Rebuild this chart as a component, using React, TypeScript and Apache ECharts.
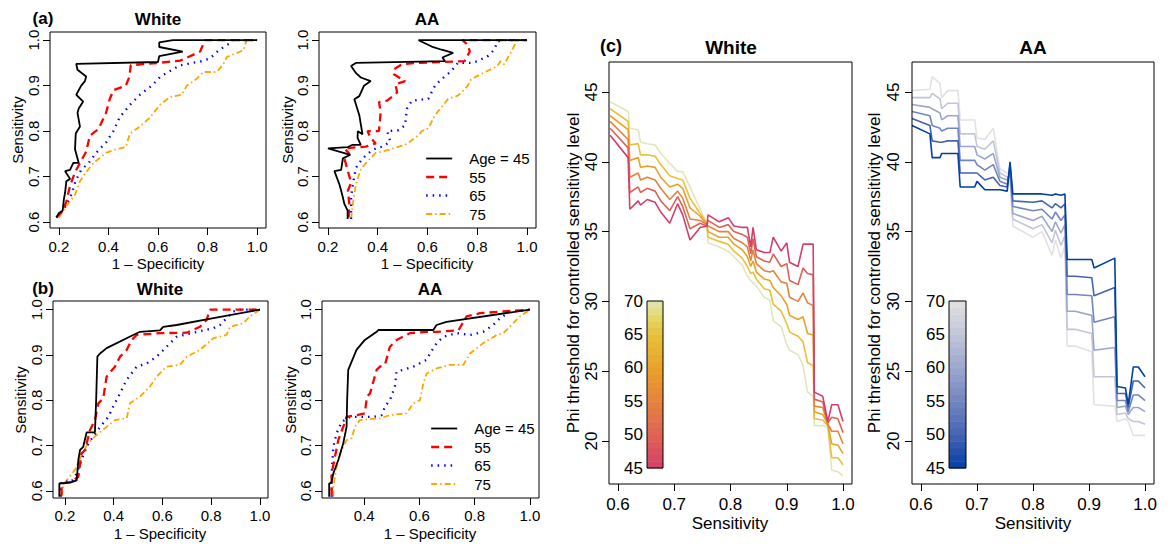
import React, { useEffect, useRef } from 'react';
import * as echarts from 'echarts';

const FONT = '"Liberation Sans", Arial, Helvetica, sans-serif';

// ---------- ROC data (1 - specificity, sensitivity) ----------
const ageLabels = ['Age = 45', '55', '65', '75'];

const rocAW45 = [[0.19,0.61],[0.2,0.62],[0.215,0.625],[0.22,0.65],[0.225,0.665],[0.23,0.69],[0.245,0.695],[0.225,0.712],[0.245,0.715],[0.258,0.73],[0.28,0.73],[0.265,0.76],[0.268,0.795],[0.285,0.81],[0.275,0.84],[0.28,0.85],[0.298,0.865],[0.27,0.88],[0.29,0.9],[0.305,0.91],[0.31,0.92],[0.275,0.935],[0.27,0.948],[0.6,0.952],[0.605,0.965],[0.7,0.975],[0.605,0.985],[0.605,0.995],[0.66,1.0],[1.0,1.0]];
const rocAW55 = [[0.19,0.61],[0.215,0.625],[0.23,0.645],[0.245,0.68],[0.265,0.71],[0.285,0.73],[0.31,0.755],[0.325,0.79],[0.36,0.805],[0.39,0.84],[0.405,0.87],[0.42,0.89],[0.47,0.9],[0.485,0.92],[0.49,0.945],[0.6,0.95],[0.69,0.955],[0.77,0.975],[0.79,1.0],[1.0,1.0]];
const rocAW65 = [[0.19,0.61],[0.22,0.628],[0.25,0.66],[0.267,0.69],[0.29,0.715],[0.32,0.73],[0.35,0.752],[0.39,0.775],[0.42,0.8],[0.445,0.83],[0.487,0.858],[0.527,0.88],[0.575,0.9],[0.61,0.92],[0.69,0.945],[0.77,0.953],[0.81,0.96],[0.85,0.98],[0.89,0.993],[0.9,1.0],[1.0,1.0]];
const rocAW75 = [[0.2,0.61],[0.23,0.635],[0.265,0.66],[0.285,0.69],[0.31,0.71],[0.34,0.73],[0.39,0.752],[0.43,0.76],[0.47,0.765],[0.487,0.795],[0.527,0.81],[0.568,0.83],[0.608,0.858],[0.648,0.875],[0.696,0.88],[0.716,0.9],[0.756,0.915],[0.783,0.93],[0.837,0.93],[0.864,0.948],[0.878,0.963],[0.945,0.978],[0.958,1.0],[1.0,1.0]];

const rocAA45 = [[0.279,0.607],[0.279,0.625],[0.266,0.64],[0.26,0.654],[0.253,0.669],[0.246,0.683],[0.226,0.712],[0.253,0.715],[0.26,0.74],[0.29,0.748],[0.2,0.762],[0.28,0.765],[0.299,0.77],[0.332,0.77],[0.319,0.785],[0.32,0.8],[0.339,0.793],[0.332,0.815],[0.326,0.835],[0.306,0.87],[0.326,0.877],[0.345,0.9],[0.372,0.91],[0.332,0.918],[0.312,0.928],[0.293,0.943],[0.312,0.95],[0.67,0.954],[0.66,0.962],[0.703,0.972],[0.657,0.979],[0.617,0.986],[0.564,1.0],[1.0,1.0]];
const rocAA55 = [[0.283,0.61],[0.286,0.64],[0.28,0.669],[0.293,0.687],[0.28,0.712],[0.266,0.74],[0.286,0.75],[0.266,0.762],[0.352,0.766],[0.392,0.773],[0.372,0.785],[0.359,0.8],[0.405,0.8],[0.412,0.842],[0.405,0.864],[0.438,0.867],[0.478,0.885],[0.471,0.903],[0.51,0.91],[0.465,0.925],[0.465,0.936],[0.498,0.947],[0.55,0.95],[0.749,0.954],[0.77,0.975],[0.762,0.99],[0.74,1.0],[1.0,1.0]];
const rocAA65 = [[0.293,0.607],[0.293,0.654],[0.3,0.683],[0.312,0.719],[0.339,0.74],[0.379,0.759],[0.418,0.766],[0.451,0.777],[0.438,0.8],[0.484,0.802],[0.51,0.813],[0.517,0.849],[0.537,0.867],[0.603,0.871],[0.63,0.9],[0.656,0.914],[0.696,0.932],[0.722,0.95],[0.775,0.95],[0.802,0.954],[0.842,0.965],[0.868,0.979],[0.881,0.997],[0.9,1.0],[1.0,1.0]];
const rocAA75 = [[0.293,0.607],[0.3,0.64],[0.312,0.683],[0.332,0.716],[0.359,0.734],[0.392,0.752],[0.445,0.759],[0.51,0.77],[0.537,0.78],[0.564,0.791],[0.577,0.8],[0.603,0.806],[0.63,0.835],[0.683,0.871],[0.722,0.878],[0.749,0.892],[0.762,0.9],[0.775,0.914],[0.828,0.929],[0.881,0.943],[0.894,0.954],[0.908,0.947],[0.934,0.972],[0.947,0.986],[0.96,1.0],[1.0,1.0]];

const rocBW45 = [[0.177,0.587],[0.177,0.616],[0.221,0.618],[0.248,0.623],[0.255,0.668],[0.262,0.69],[0.275,0.697],[0.289,0.729],[0.323,0.729],[0.328,0.8],[0.333,0.896],[0.344,0.903],[0.371,0.915],[0.48,0.944],[0.508,0.951],[0.59,0.954],[0.603,0.962],[0.658,0.966],[0.809,0.981],[1.0,1.0]];
const rocBW55 = [[0.186,0.59],[0.186,0.616],[0.227,0.62],[0.255,0.631],[0.268,0.682],[0.282,0.69],[0.303,0.734],[0.323,0.756],[0.337,0.793],[0.357,0.804],[0.371,0.852],[0.405,0.874],[0.426,0.896],[0.453,0.911],[0.474,0.933],[0.494,0.944],[0.59,0.948],[0.7,0.949],[0.754,0.962],[0.781,0.977],[0.795,1.0],[1.0,1.0]];
const rocBW65 = [[0.183,0.587],[0.186,0.62],[0.227,0.62],[0.248,0.638],[0.268,0.668],[0.289,0.697],[0.316,0.72],[0.344,0.741],[0.378,0.763],[0.398,0.786],[0.426,0.815],[0.453,0.845],[0.494,0.874],[0.535,0.881],[0.576,0.896],[0.617,0.918],[0.658,0.94],[0.727,0.949],[0.809,0.959],[0.836,0.966],[0.863,0.981],[0.891,0.996],[0.92,1.0],[1.0,1.0]];
const rocBW75 = [[0.186,0.587],[0.193,0.609],[0.207,0.623],[0.241,0.646],[0.262,0.671],[0.289,0.7],[0.323,0.72],[0.371,0.741],[0.405,0.756],[0.453,0.76],[0.467,0.793],[0.508,0.808],[0.549,0.83],[0.576,0.852],[0.617,0.874],[0.672,0.878],[0.7,0.896],[0.754,0.911],[0.809,0.937],[0.863,0.944],[0.877,0.962],[0.932,0.97],[0.959,0.985],[1.0,1.0]];

const rocBA45 = [[0.273,0.587],[0.273,0.616],[0.281,0.618],[0.288,0.638],[0.306,0.668],[0.324,0.705],[0.336,0.741],[0.338,0.8],[0.342,0.867],[0.372,0.911],[0.402,0.933],[0.445,0.951],[0.451,0.955],[0.65,0.955],[0.662,0.966],[0.698,0.973],[1.0,1.0]];
const rocBA55 = [[0.282,0.59],[0.282,0.638],[0.294,0.675],[0.306,0.712],[0.324,0.741],[0.336,0.763],[0.372,0.767],[0.402,0.771],[0.41,0.808],[0.421,0.815],[0.445,0.867],[0.457,0.874],[0.475,0.878],[0.493,0.918],[0.517,0.933],[0.565,0.948],[0.626,0.951],[0.662,0.951],[0.741,0.954],[0.771,0.985],[0.819,0.992],[0.904,0.996],[1.0,1.0]];
const rocBA65 = [[0.282,0.587],[0.282,0.638],[0.288,0.697],[0.3,0.727],[0.318,0.752],[0.348,0.763],[0.384,0.763],[0.433,0.763],[0.463,0.767],[0.475,0.786],[0.493,0.8],[0.511,0.83],[0.517,0.863],[0.541,0.867],[0.578,0.874],[0.626,0.889],[0.638,0.903],[0.662,0.926],[0.686,0.94],[0.735,0.948],[0.783,0.944],[0.831,0.951],[0.867,0.966],[0.892,0.981],[0.928,0.996],[1.0,1.0]];
const rocBA75 = [[0.288,0.587],[0.288,0.609],[0.3,0.653],[0.318,0.69],[0.336,0.712],[0.354,0.716],[0.366,0.741],[0.384,0.756],[0.457,0.76],[0.493,0.767],[0.553,0.771],[0.578,0.793],[0.602,0.8],[0.614,0.837],[0.626,0.859],[0.662,0.87],[0.71,0.878],[0.759,0.878],[0.783,0.903],[0.831,0.926],[0.88,0.944],[0.904,0.948],[0.94,0.97],[0.964,0.985],[1.0,1.0]];

// ---------- (c) Phi threshold vs sensitivity ----------
const phiAges = [45, 50, 55, 60, 65, 70];
const colorbarAges = [45,46,47,48,49,50,51,52,53,54,55,56,57,58,59,60,61,62,63,64,65,66,67,68,69];

const cWhiteSens = [0.586,0.618,0.621,0.636,0.64,0.652,0.666,0.676,0.692,0.706,0.715,0.728,0.746,0.758,0.76,0.78,0.796,0.806,0.821,0.83,0.836,0.84,0.846,0.86,0.87,0.876,0.89,0.9,0.905,0.92,0.929,0.937,0.947,0.949,0.964,0.973,0.98,0.991,1.0];
const cWhite45 = [41.9,40.3,36.6,37.2,36.9,37.3,37.1,36.4,35.6,37.0,36.2,34.4,35.3,35.4,36.2,35.7,36.0,35.4,35.3,35.3,33.9,35.3,33.7,33.5,33.5,34.6,33.6,34.2,32.8,32.5,34.1,34.1,34.1,23.5,23.2,21.4,22.6,22.6,21.4];
const cWhite50 = [42.4,41.0,37.8,38.2,37.8,38.1,37.9,37.2,36.5,37.5,36.8,35.2,35.6,35.4,35.8,35.3,35.5,35.0,34.8,34.6,33.4,34.5,33.2,32.9,32.8,33.4,32.5,32.7,31.5,31.2,32.4,32.0,31.9,23.0,22.8,21.3,21.7,21.6,20.6];
const cWhite55 = [42.9,41.6,38.9,39.2,38.7,38.9,38.7,38.1,37.3,37.9,37.4,35.9,35.8,35.5,35.4,35.0,35.0,34.5,34.2,33.9,32.9,33.7,32.7,32.2,32.1,32.2,31.4,31.3,30.3,30.0,30.6,29.9,29.7,22.5,22.4,21.2,20.7,20.7,19.8];
const cWhite60 = [43.3,42.3,40.1,40.3,39.6,39.7,39.6,38.9,38.2,38.4,38.1,36.7,36.1,35.5,35.0,34.6,34.6,34.1,33.7,33.2,32.5,32.9,32.1,31.6,31.5,31.0,30.4,29.8,29.0,28.7,28.9,27.7,27.6,22.1,21.9,21.2,19.8,19.7,19.1];
const cWhite65 = [43.8,42.9,41.2,41.3,40.5,40.5,40.4,39.8,39.0,38.8,38.7,37.4,36.3,35.6,34.6,34.3,34.1,33.6,33.1,32.5,32.0,32.1,31.6,30.9,30.8,29.8,29.3,28.4,27.8,27.5,27.1,25.6,25.4,21.6,21.5,21.1,18.8,18.8,18.3];
const cWhite70 = [44.3,43.6,42.4,42.3,41.4,41.3,41.2,40.6,39.9,39.3,39.3,38.2,36.6,35.6,34.2,33.9,33.6,33.2,32.6,31.8,31.5,31.3,31.1,30.3,30.1,28.6,28.2,26.9,26.5,26.2,25.4,23.5,23.2,21.1,21.1,21.0,17.9,17.8,17.5];

const cAASens = [0.584,0.616,0.62,0.634,0.637,0.648,0.666,0.67,0.696,0.7,0.714,0.729,0.741,0.754,0.759,0.764,0.8,0.816,0.834,0.84,0.85,0.857,0.861,0.875,0.905,0.909,0.946,0.95,0.965,0.97,0.979,0.988,1.0];
const cAA45 = [42.6,42.0,40.3,40.3,40.6,40.6,40.6,38.2,38.2,38.6,38.0,38.0,38.0,37.9,40.0,37.7,37.7,37.7,37.6,37.7,37.6,37.7,33.0,33.0,33.0,32.4,33.1,23.9,23.8,22.6,25.3,25.3,24.6];
const cAA50 = [43.1,42.6,41.5,41.4,41.4,41.5,41.5,39.2,39.2,39.2,38.7,38.9,38.3,38.2,39.8,37.2,37.1,37.2,36.7,37.0,36.7,37.0,31.8,31.8,31.7,30.4,31.0,23.4,23.4,22.4,24.3,24.3,23.8];
const cAA55 = [43.6,43.3,42.6,42.4,42.2,42.4,42.4,40.1,40.1,39.8,39.4,39.8,38.6,38.4,39.5,36.8,36.5,36.6,35.9,36.4,35.8,36.2,30.5,30.5,30.4,28.5,28.9,22.9,22.9,22.1,23.3,23.3,22.9];
const cAA60 = [44.1,43.9,43.8,43.5,43.0,43.3,43.3,41.1,41.1,40.5,40.2,40.6,38.9,38.7,39.3,36.3,35.8,36.1,35.0,35.7,34.9,35.5,29.3,29.3,29.0,26.5,26.7,22.4,22.5,21.9,22.4,22.4,22.1];
const cAA65 = [44.6,44.6,44.9,44.5,43.8,44.2,44.2,42.0,42.0,41.1,40.9,41.5,39.2,38.9,39.0,35.9,35.2,35.5,34.2,35.1,34.0,34.7,28.0,28.0,27.7,24.6,24.6,21.9,22.0,21.6,21.4,21.4,21.2];
const cAA70 = [45.1,45.2,46.1,45.6,44.6,45.1,45.1,43.0,43.0,41.7,41.6,42.4,39.5,39.2,38.8,35.4,34.6,35.0,33.3,34.4,33.1,34.0,26.8,26.8,26.4,22.6,22.5,21.4,21.6,21.4,20.4,20.4,20.4];

// tick labels
const rocTicks = [0.2, 0.4, 0.6, 0.8, 1.0];
const rocTicksBA = [0.4, 0.6, 0.8, 1.0];
const sensTicks = [0.6, 0.7, 0.8, 0.9, 1.0];
const cXTicks = [0.6, 0.7, 0.8, 0.9, 1.0];
const cYTicks = [20, 25, 30, 35, 40, 45];

// ---------- styles ----------
const heatStops: [number, string][] = [[0, '#D33F6A'], [0.2, '#DE6356'], [0.4, '#E5833E'], [0.6, '#E8A22A'], [0.8, '#E7C13A'], [0.92, '#E5DB6E'], [1, '#E2E6BD']];
const blueStops: [number, string][] = [[0, '#023FA5'], [0.2, '#4563B3'], [0.4, '#7385C0'], [0.6, '#9CA6CD'], [0.8, '#C2C5D8'], [1, '#E2E2E2']];

function hex(c: string) { return [parseInt(c.slice(1, 3), 16), parseInt(c.slice(3, 5), 16), parseInt(c.slice(5, 7), 16)]; }
function rampColor(stops: [number, string][], t: number) {
  t = Math.max(0, Math.min(1, t));
  for (let i = 1; i < stops.length; i++) {
    if (t <= stops[i][0]) {
      const [t0, c0] = stops[i - 1];
      const [t1, c1] = stops[i];
      const f = (t - t0) / (t1 - t0);
      const a = hex(c0), b = hex(c1);
      const r = a.map((v, k) => Math.round(v + (b[k] - v) * f));
      return `rgb(${r[0]},${r[1]},${r[2]})`;
    }
  }
  return stops[stops.length - 1][1];
}

const rocStyles = [
  { color: '#000000', width: 1.8, type: 'solid' as any },
  { color: '#FF0000', width: 2.3, type: [8, 5] as any },
  { color: '#0000FF', width: 2.3, type: [1.5, 5] as any },
  { color: '#FFA500', width: 1.8, type: [6, 3, 1.5, 3] as any },
];

export default function App() {
  const ref = useRef<HTMLDivElement>(null);
  useEffect(() => {
    if (!ref.current) return;
    const chart = echarts.init(ref.current, undefined, { renderer: 'svg' });

    const grids = [
      { left: 50, top: 32, width: 216, height: 196 },
      { left: 319, top: 32, width: 217, height: 196 },
      { left: 53, top: 301, width: 215, height: 197 },
      { left: 322, top: 301, width: 217, height: 197 },
      { left: 609, top: 62, width: 243, height: 422 },
      { left: 912, top: 62, width: 242, height: 422 },
      { left: 647, top: 301, width: 16, height: 167 },
      { left: 949, top: 301, width: 17, height: 167 },
    ].map((g) => ({ ...g, show: true, borderColor: '#000', borderWidth: 1, backgroundColor: 'transparent', containLabel: false, z: 5 }));

    const baseAxis = (gridIndex: number, min: number, max: number, ticks: number[], fs: number, margin: number, rotate: number, fmt: (v: number) => string) => ({
      type: 'value', gridIndex, min, max,
      axisLine: { show: false },
      axisTick: { show: true, inside: false, length: 7, lineStyle: { color: '#000', width: 1 }, customValues: ticks },
      axisLabel: { show: true, margin, rotate, fontSize: fs, color: '#000', fontFamily: FONT, customValues: ticks, formatter: (v: number) => fmt(v) },
      splitLine: { show: false },
    });
    const f1 = (v: number) => Number(v).toFixed(1);
    const f0 = (v: number) => String(Math.round(v));

    const xAxis: any[] = [
      baseAxis(0, 0.164, 1.036, rocTicks, 15, 11, 0, f1),
      baseAxis(1, 0.164, 1.036, rocTicks, 15, 11, 0, f1),
      baseAxis(2, 0.151, 1.033, rocTicks, 15, 10, 0, f1),
      baseAxis(3, 0.247, 1.033, rocTicksBA, 15, 10, 0, f1),
      baseAxis(4, 0.584, 1.016, cXTicks, 17, 12, 0, f1),
      baseAxis(5, 0.584, 1.016, cXTicks, 17, 12, 0, f1),
      { type: 'value', gridIndex: 6, min: 0, max: 1, show: false },
      { type: 'value', gridIndex: 7, min: 0, max: 1, show: false },
    ];
    const cbY = (gridIndex: number) => ({
      type: 'value', gridIndex, min: 45, max: 70, interval: 5,
      axisLine: { show: false }, axisTick: { show: false }, splitLine: { show: false },
      axisLabel: { show: true, margin: 4, fontSize: 17, color: '#000', fontFamily: FONT },
    });
    const yAxis: any[] = [
      baseAxis(0, 0.587, 1.018, sensTicks, 15, 9, 90, f1),
      baseAxis(1, 0.587, 1.018, sensTicks, 15, 9, 90, f1),
      baseAxis(2, 0.584, 1.019, sensTicks, 15, 9, 90, f1),
      baseAxis(3, 0.584, 1.019, sensTicks, 15, 9, 90, f1),
      baseAxis(4, 16.92, 47.15, cYTicks, 17, 9, 90, f0),
      baseAxis(5, 16.92, 47.15, cYTicks, 17, 10, 90, f0),
      cbY(6),
      cbY(7),
    ];

    const rocPanels = [
      [rocAW45, rocAW55, rocAW65, rocAW75],
      [rocAA45, rocAA55, rocAA65, rocAA75],
      [rocBW45, rocBW55, rocBW65, rocBW75],
      [rocBA45, rocBA55, rocBA65, rocBA75],
    ];
    const series: any[] = [];
    rocPanels.forEach((curves, p) => {
      [3, 2, 1, 0].forEach((k) => {
        series.push({
          type: 'line', name: ageLabels[k], xAxisIndex: p, yAxisIndex: p,
          data: curves[k], symbol: 'none', showSymbol: false, clip: true,
          lineStyle: { color: rocStyles[k].color, width: rocStyles[k].width, type: rocStyles[k].type },
          itemStyle: { color: rocStyles[k].color },
          z: 2 + (3 - k) * 0.01,
        });
      });
    });

    const cPanels = [
      { sens: cWhiteSens, lines: [cWhite45, cWhite50, cWhite55, cWhite60, cWhite65, cWhite70], stops: heatStops, idx: 4, tag: 'White' },
      { sens: cAASens, lines: [cAA45, cAA50, cAA55, cAA60, cAA65, cAA70], stops: blueStops, idx: 5, tag: 'AA' },
    ];
    cPanels.forEach((pn) => {
      for (let i = phiAges.length - 1; i >= 0; i--) {
        const col = rampColor(pn.stops, (phiAges[i] - 45) / 25);
        series.push({
          type: 'line', name: `${pn.tag} age ${phiAges[i]}`, xAxisIndex: pn.idx, yAxisIndex: pn.idx,
          data: pn.sens.map((s, j) => [s, pn.lines[i][j]]),
          symbol: 'none', showSymbol: false, clip: true,
          lineStyle: { color: col, width: 1.6 },
        });
      }
    });

    [{ idx: 6, stops: heatStops }, { idx: 7, stops: blueStops }].forEach((cb) => {
      series.push({
        type: 'custom', name: `colorbar${cb.idx}`, xAxisIndex: cb.idx, yAxisIndex: cb.idx,
        data: colorbarAges.map((a) => [0, a]),
        encode: { x: 0, y: 1 },
        renderItem: (_p: any, api: any) => {
          const a = api.value(1);
          const p1 = api.coord([0, a + 1]);
          const p2 = api.coord([1, a]);
          return {
            type: 'rect',
            shape: { x: p1[0], y: p1[1], width: p2[0] - p1[0], height: p2[1] - p1[1] + 0.5 },
            style: { fill: rampColor(cb.stops, (a + 0.5 - 45) / 25) },
          };
        },
      });
    });

    const legendData = ageLabels.map((name, k) => ({
      name,
      itemStyle: { opacity: 0, color: 'transparent', borderWidth: 0 },
      lineStyle: { color: rocStyles[k].color, width: rocStyles[k].width, type: rocStyles[k].type, opacity: 1 },
    }));
    const legendBase = {
      data: legendData, orient: 'vertical', itemWidth: 26, itemHeight: 14, itemGap: 3.5,
      padding: 0, selectedMode: false,
      itemStyle: { opacity: 0, color: 'transparent', borderWidth: 0 },
      textStyle: { fontSize: 15, fontFamily: FONT, color: '#000', padding: [0, 0, 0, 12] },
    };

    const txt = (x: number, y: number, text: string, size: number, bold = false, rot = 0) => ({
      type: 'text', x, y, rotation: rot,
      style: { text, fontSize: size, fontWeight: bold ? 'bold' : 'normal', fontFamily: FONT, fill: '#000', textAlign: 'center', textVerticalAlign: 'middle' },
    });
    const V = Math.PI / 2;

    chart.setOption({
      animation: false,
      grid: grids,
      xAxis, yAxis, series,
      legend: [
        { ...legendBase, left: 425, top: 151 },
        { ...legendBase, left: 430, top: 421 },
      ],
      graphic: [
        txt(43, 18, '(a)', 17, true),
        txt(158, 19, 'White', 17, true),
        txt(427, 19, 'AA', 17, true),
        txt(43, 288, '(b)', 17, true),
        txt(160, 289, 'White', 17, true),
        txt(430, 289, 'AA', 17, true),
        txt(611, 46, '(c)', 18, true),
        txt(731, 47, 'White', 19, true),
        txt(1033, 47, 'AA', 19, true),
        txt(158, 263, '1 – Specificity', 15),
        txt(427, 263, '1 – Specificity', 15),
        txt(160, 533, '1 – Specificity', 15),
        txt(430, 533, '1 – Specificity', 15),
        txt(730, 523, 'Sensitivity', 17),
        txt(1033, 523, 'Sensitivity', 17),
        txt(17, 130, 'Sensitivity', 15, false, V),
        txt(287, 130, 'Sensitivity', 15, false, V),
        txt(20, 400, 'Sensitivity', 15, false, V),
        txt(290, 400, 'Sensitivity', 15, false, V),
        txt(573, 273, 'Phi threshold for controlled sensitivity level', 17, false, V),
        txt(874, 273, 'Phi threshold for controlled sensitivity level', 17, false, V),
      ],
    });
    return () => chart.dispose();
  }, []);
  return <div ref={ref} style={{ position: 'fixed', left: 0, top: 0, width: 1168, height: 544, background: '#fff' }} />;
}
